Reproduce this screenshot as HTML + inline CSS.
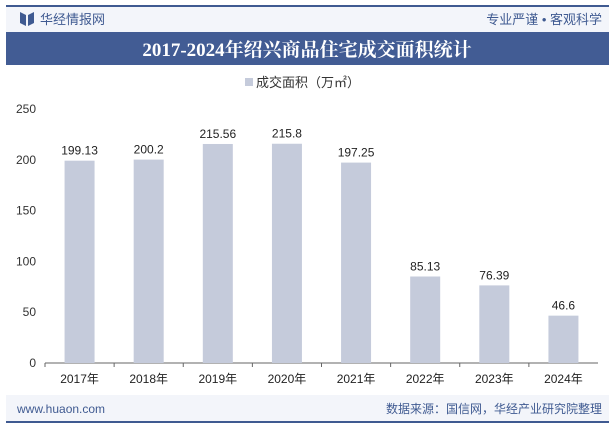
<!DOCTYPE html>
<html><head><meta charset="utf-8"><style>
body{margin:0;width:615px;height:427px;overflow:hidden;background:#fff;font-family:"Liberation Sans","Noto Sans CJK SC",sans-serif}
</style></head><body>
<svg width="615" height="427" xmlns="http://www.w3.org/2000/svg">
<rect x="6" y="5" width="603" height="2" fill="#3f5a91"/>
<rect x="6" y="7" width="603" height="25" fill="#f3f5fa"/>
<path d="M20 12 L26 15 L26 26 L20 23 Z M28 15 L34 12 L34 23 L28 26 Z" fill="#3f5a91"/>
<text x="40" y="24" font-size="13" fill="#3f5a91">华经情报网</text>
<text x="602" y="24" font-size="13" fill="#3f5a91" text-anchor="end">专业严谨 • 客观科学</text>
<rect x="6" y="32" width="603" height="33" fill="#425c94"/>
<text x="307" y="56" font-size="19" font-weight="bold" fill="#fff" text-anchor="middle" font-family="Liberation Serif,Noto Serif CJK SC,serif">2017-2024年绍兴商品住宅成交面积统计</text>
<rect x="245" y="78" width="8" height="8" fill="#c5cbdb"/>
<text x="256" y="87" font-size="13" fill="#333">成交面积（万㎡）</text>
<g id="plot"></g>
<rect x="6" y="395" width="603" height="27" fill="#f3f5fa"/>
<rect x="6" y="421" width="603" height="2" fill="#3f5a91"/>
<text x="17" y="413" font-size="12" fill="#3f5a91">www.huaon.com</text>
<text x="602" y="413" font-size="12" fill="#3f5a91" text-anchor="end">数据来源：国信网，华经产业研究院整理</text>
</svg>
<script>
const categories=["2017年","2018年","2019年","2020年","2021年","2022年","2023年","2024年"];
const values=[199.13,200.2,215.56,215.8,197.25,85.13,76.39,46.6];
const labels=["199.13","200.2","215.56","215.8","197.25","85.13","76.39","46.6"];
const ticks=[0,50,100,150,200,250];
const ns="http://www.w3.org/2000/svg",g=document.getElementById('plot');
const x0=45,x1=598,yb=363,yt=109,max=250;
const y=v=>yb-(yb-yt)*v/max;
const bw=(x1-x0)/categories.length;
function mk(t,a,txt){const e=document.createElementNS(ns,t);for(const k in a)e.setAttribute(k,a[k]);if(txt!=null)e.textContent=txt;g.appendChild(e);return e;}
ticks.forEach(t=>{const e=mk('text',{x:36,y:y(t)+4,'font-size':12,fill:'#333','text-anchor':'end'},t);

});
const ax=mk('line',{x1:x0,x2:x1,y1:yb,y2:yb,stroke:'#666'});


categories.forEach((c,i)=>{const cx=x0+bw*(i+0.5);
const tk=mk('line',{x1:x0+bw*i,x2:x0+bw*i,y1:yb,y2:yb+4,stroke:'#666'});


const b=mk('rect',{x:cx-15,width:30,y:y(values[i]),height:yb-y(values[i]),fill:'#c5cbdb'});


const l=mk('text',{x:cx,y:y(values[i])-6,'font-size':12,fill:'#222','text-anchor':'middle'},labels[i]);


const xl=mk('text',{x:cx,y:yb+20,'font-size':12,fill:'#222','text-anchor':'middle'},c);

});
</script>
</body></html>
